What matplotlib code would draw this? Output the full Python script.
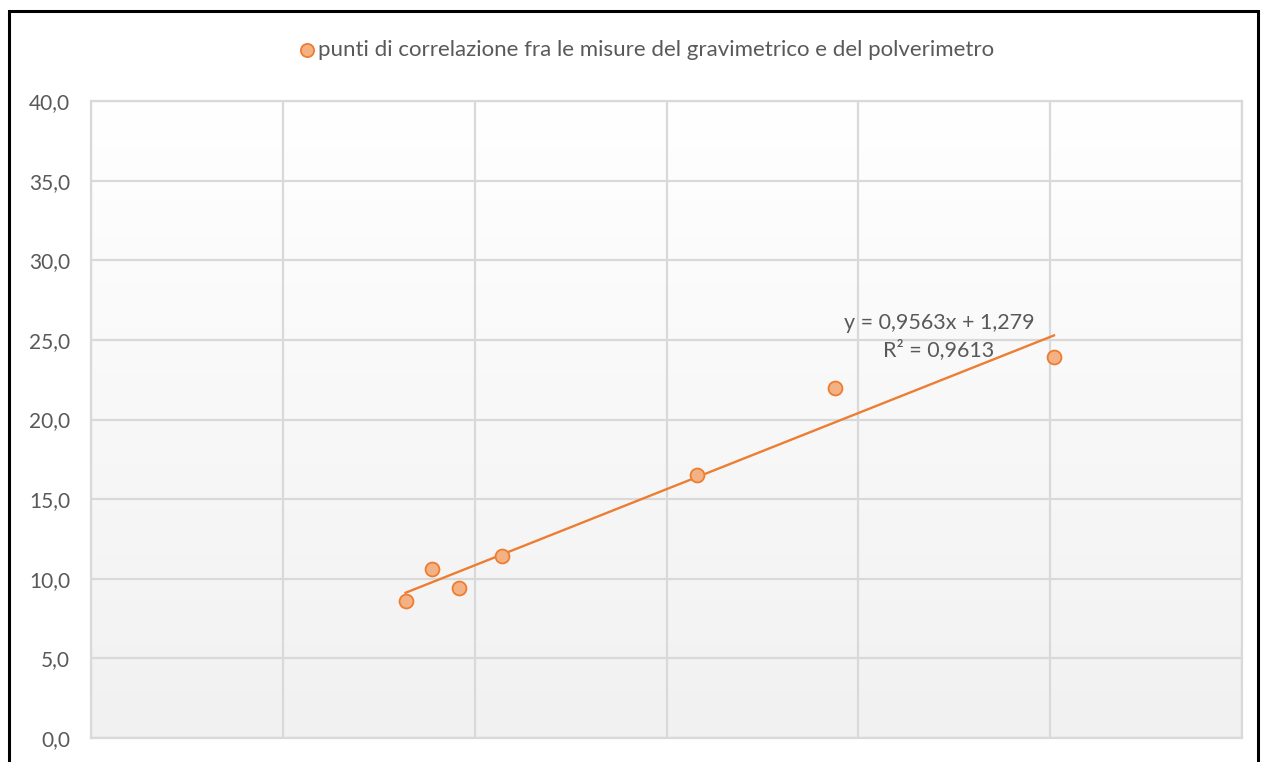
import matplotlib
matplotlib.use("Agg")
from matplotlib import pyplot as plt
from matplotlib.patches import Rectangle
import numpy as np

# gravimetric vs dust meter readings
X_VALUES = [8.2, 8.9, 9.6, 10.7, 15.8, 19.4, 25.1]
Y_VALUES = [8.6, 10.6, 9.4, 11.4, 16.5, 22.0, 23.9]
SLOPE = 0.9563
INTERCEPT = 1.279
R2 = 0.9613
Y_TICKS = [0, 5, 10, 15, 20, 25, 30, 35, 40]
X_TICKS = [0, 5, 10, 15, 20, 25, 30]
LEGEND_LABEL = "punti di correlazione fra le misure del gravimetrico e del polverimetro"


def it_num(v, nd):
    return f"{v:.{nd}f}".replace(".", ",")


plt.rcParams['font.family'] = ['Lato', 'DejaVu Sans']

fig = plt.figure(figsize=(12.61, 7.62), dpi=100)
ax = fig.add_axes([91 / 1261, 1 - 738 / 762, (1242 - 91) / 1261, (738 - 101) / 762])

# gradient background, white at the top to light gray at the bottom
grad = np.linspace(1.0, 0.945, 256).reshape(-1, 1)
ax.imshow(np.dstack([grad, grad, grad]), extent=[0, 30, 0, 40], origin='upper',
          aspect='auto', zorder=0, interpolation='bilinear')
ax.set_xlim(0, 30)
ax.set_ylim(0, 40)

ax.set_xticks(X_TICKS)
ax.set_yticks(Y_TICKS)
ax.set_xticklabels([])
ax.set_yticklabels([it_num(v, 1) for v in Y_TICKS], color='#595959', fontsize=15)
ax.tick_params(length=0, pad=15)
ax.grid(True, color='#d9d9d9', linewidth=1.6, zorder=1)
ax.set_axisbelow(True)
for s in ax.spines.values():
    s.set_color('#d9d9d9')
    s.set_linewidth(1.6)

# trendline
xs = np.array([min(X_VALUES), max(X_VALUES)])
ax.plot(xs, SLOPE * xs + INTERCEPT, color='#ed7d31', linewidth=1.7, zorder=3)

ax.scatter(X_VALUES, Y_VALUES, s=100, color='#f4b183', edgecolor='#ed7d31',
           linewidth=1.3, zorder=4, label=LEGEND_LABEL)

ax.text(22.1, 23.75, f"y = {it_num(SLOPE, 4)}x + {it_num(INTERCEPT, 3)}\nR² = {it_num(R2, 4)}",
        ha='center', va='bottom', multialignment='center', fontsize=15.5,
        color='#595959', linespacing=1.35)

leg = fig.legend(loc='center', bbox_to_anchor=(645 / 1261, 1 - 50 / 762), frameon=False,
                 fontsize=16, handletextpad=0.0, handlelength=1.0, markerscale=0.95)
for t in leg.get_texts():
    t.set_color('#595959')

# outer frame of the chart (cut at the bottom)
fig.patches.append(Rectangle((9 / 1261, -0.1), (1258 - 9) / 1261, 1 - 11 / 762 + 0.1,
                             transform=fig.transFigure, fill=False, edgecolor='black',
                             linewidth=2.2, zorder=10))

fig.savefig("out.png", dpi=100)
